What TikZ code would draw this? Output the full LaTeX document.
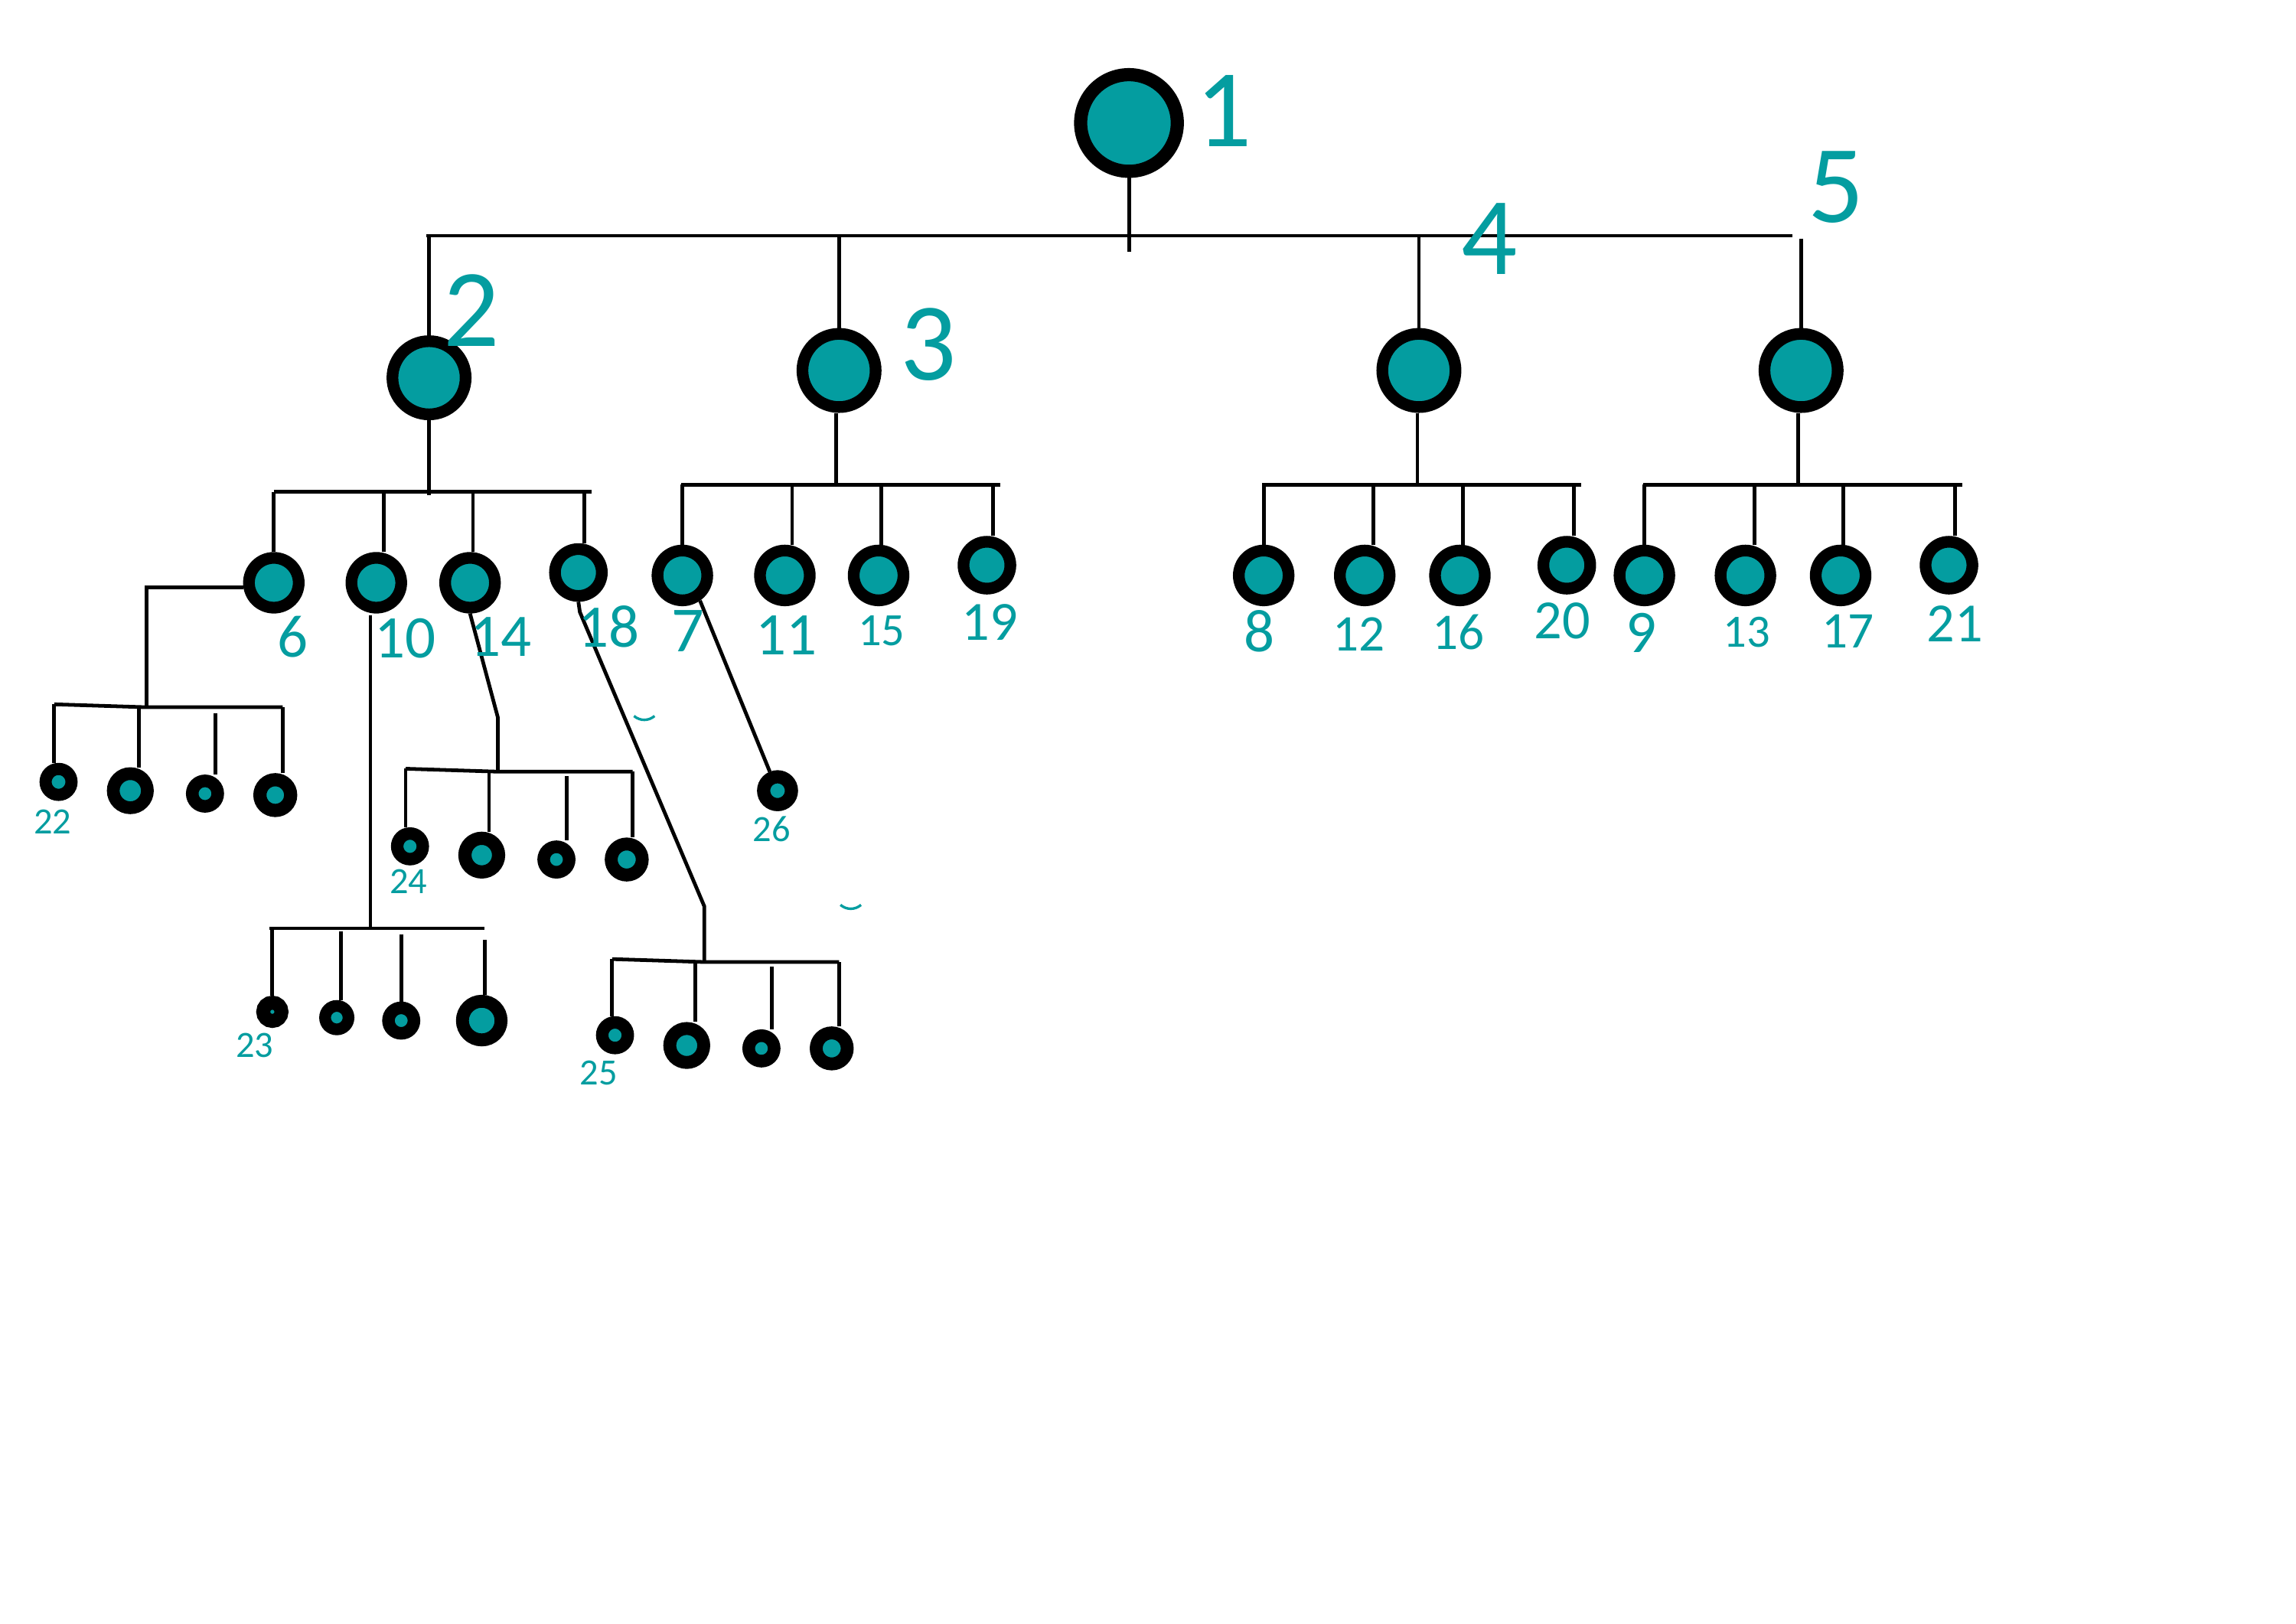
\documentclass[tikz,border=0pt]{standalone}
\usepackage{fontspec}
\setmainfont{Carlito}
\definecolor{tl}{HTML}{049DA0}
\begin{document}
\begin{tikzpicture}[x=0.2mm,y=-0.2mm,
  ring/.style 2 args={circle,draw=black,fill=tl,inner sep=0pt,line width={(#1-#2)*0.2mm},minimum size={(#1+#2)*0.2mm}},
  wire/.style={line width=0.5mm,black},
  lab/.style={text=tl,inner sep=0pt,font=\fontsize{#1}{#1}\selectfont},
]
\useasboundingbox[fill=white] (0,0) rectangle (1568,1109);

% ---------- nodes ----------
\node[ring={37.5}{28.5}] (n1) at (771,84) {};
\node[ring={29}{21}] (n2) at (293,258) {};
\node[ring={29}{21}] (n3) at (573,253) {};
\node[ring={29}{21}] (n4) at (969,253) {};
\node[ring={29}{21}] (n5) at (1230,253) {};

\node[ring={21}{13}] (n6)  at (187,398) {};
\node[ring={21}{13}] (n10) at (257,398) {};
\node[ring={21}{13}] (n14) at (321,398) {};
\node[ring={20}{12}] (n18) at (395,391) {};
\node[ring={21}{13}] (n7)  at (466,393) {};
\node[ring={21}{13}] (n11) at (536,393) {};
\node[ring={21}{13}] (n15) at (600,393) {};
\node[ring={20}{12}] (n19) at (674,386) {};
\node[ring={21}{13}] (n8)  at (863,393) {};
\node[ring={21}{13}] (n12) at (932,393) {};
\node[ring={21}{13}] (n16) at (997,393) {};
\node[ring={20}{12}] (n20) at (1070,386) {};
\node[ring={21}{13}] (n9)  at (1123,393) {};
\node[ring={21}{13}] (n13) at (1192,393) {};
\node[ring={21}{13}] (n17) at (1257,393) {};
\node[ring={20}{12}] (n21) at (1331,386) {};

\node[ring={13}{4.7}] (c22) at (40,534) {};
\node[ring={16}{7.3}] (c6b) at (89,540) {};
\node[ring={13}{4.4}] (c6c) at (140,542) {};
\node[ring={15}{6}]   (c6d) at (188,543) {};

\node[ring={11}{1.5}] (c23) at (186,691) {};
\node[ring={12}{4}]   (c10b) at (230,695) {};
\node[ring={13}{4.4}] (c10c) at (274,697) {};
\node[ring={17.6}{8.8}] (c10d) at (329,697) {};

\node[ring={13}{4.5}] (c24) at (280,578) {};
\node[ring={16}{7}]   (c14b) at (329,584) {};
\node[ring={13}{4.4}] (c14c) at (380,587) {};
\node[ring={15}{6.2}] (c14d) at (428,587) {};

\node[ring={13}{4.5}] (c25) at (420,707) {};
\node[ring={16}{7.2}] (c18b) at (469,714) {};
\node[ring={13}{4.4}] (c18c) at (520,716) {};
\node[ring={15}{6.2}] (c18d) at (568,716) {};

\node[ring={14}{5}] (c26) at (531,540) {};

% ---------- connectors ----------
% root
\coordinate (j1) at (771,172);
\draw[wire] (n1) -- (j1);
\coordinate (tbL) at (291,161);
\coordinate (tbR) at (1224,161);
\draw[wire] (tbL) -- (tbR);
\coordinate (t2) at (293,161);
\coordinate (t3) at (573,161);
\coordinate (t4) at (969,161);
\coordinate (t5) at (1230,163);
\draw[wire] (t2) -- (n2);
\draw[wire] (t3) -- (n3);
\draw[wire] (t4) -- (n4);
\draw[wire] (t5) -- (n5);

% level 2 -> 3
\coordinate (j2) at (293,338);
\coordinate (j3) at (571,332);
\coordinate (j4) at (968,332);
\coordinate (j5) at (1228,332);
\draw[wire] (n2) -- (j2);
\draw[wire] (n3.south -| j3) -- (j3);
\draw[wire] (n4.south -| j4) -- (j4);
\draw[wire] (n5.south -| j5) -- (j5);

\coordinate (b2L) at (187,336); \coordinate (b2R) at (404,336);
\coordinate (b3L) at (465,331); \coordinate (b3R) at (683,331);
\coordinate (b4L) at (862,331); \coordinate (b4R) at (1080,331);
\coordinate (b5L) at (1122,331); \coordinate (b5R) at (1340,331);
\draw[wire] (b2L) -- (b2R);
\draw[wire] (b3L) -- (b3R);
\draw[wire] (b4L) -- (b4R);
\draw[wire] (b5L) -- (b5R);

\foreach \xx/\nn/\yy in {187/n6/336,262/n10/336,323/n14/336,399/n18/336,
  466/n7/331,541/n11/331,602/n15/331,678/n19/331,
  863/n8/331,938/n12/331,999/n16/331,1075/n20/331,
  1123/n9/331,1198/n13/331,1259/n17/331,1335/n21/331}{
  \draw[wire] (\xx,\yy) -- (\xx,\yy |- \nn.north);
}

% group of 6
\coordinate (g6a) at (100,401);
\coordinate (g6j) at (100,483);
\draw[wire] (g6a -| n6.west) -- (g6a) -- (g6j);
\coordinate (g6L) at (37,481);
\coordinate (g6R) at (193,483);
\draw[wire] (g6L) -- (g6j) -- (g6R);
\draw[wire] (g6L) -- (g6L |- c22.north);
\draw[wire] (95,483) -- (95,483 |- c6b.north);
\draw[wire] (147,487) -- (147,487 |- c6c.north);
\draw[wire] (g6R) -- (g6R |- c6d.north);

% group of 10
\coordinate (g10a) at (253,420);
\coordinate (g10j) at (253,634);
\draw[wire] (g10a) -- (g10j);
\coordinate (g10L) at (184,634);
\coordinate (g10R) at (331,634);
\draw[wire] (g10L) -- (g10R);
\draw[wire] (186,634) -- (186,634 |- c23.north);
\draw[wire] (233,636) -- (233,636 |- c10b.north);
\draw[wire] (274,638) -- (274,638 |- c10c.north);
\draw[wire] (331,642) -- (331,642 |- c10d.north);

% group of 14
\coordinate (g14a) at (340,490);
\coordinate (g14j) at (340,527);
\draw[wire] (n14.south) -- (g14a) -- (g14j);
\coordinate (g14L) at (277,525);
\coordinate (g14R) at (432,527);
\draw[wire] (g14L) -- (g14j) -- (g14R);
\draw[wire] (g14L) -- (g14L |- c24.north);
\draw[wire] (334,527) -- (334,527 |- c14b.north);
\draw[wire] (387,530) -- (387,530 |- c14c.north);
\draw[wire] (g14R) -- (g14R |- c14d.north);

% group of 18
\coordinate (g18a) at (396,418);
\coordinate (g18b) at (481,619);
\coordinate (g18j) at (481,657);
\draw[wire] (n18.south) -- (g18a) -- (g18b) -- (g18j);
\coordinate (g18L) at (418,655);
\coordinate (g18R) at (573,657);
\draw[wire] (g18L) -- (g18j) -- (g18R);
\draw[wire] (g18L) -- (g18L |- c25.north);
\draw[wire] (475,657) -- (475,657 |- c18b.north);
\draw[wire] (527,660) -- (527,660 |- c18c.north);
\draw[wire] (g18R) -- (g18R |- c18d.north);

% 7 -> 26
\draw[wire] (n7.-55) -- (c26);

% small teal marks
\coordinate (m1) at (440,489);
\coordinate (m2) at (581,618);
\draw[tl,line width=0.35mm] ([xshift=-4]m1) to[bend right=40] ([xshift=4]m1);
\draw[tl,line width=0.35mm] ([xshift=-4]m2) to[bend right=40] ([xshift=4]m2);

% ---------- labels ----------
\node[lab=43] (l1) at (836,76) {1};
\node[lab=43] (l2) at (322,212) {2};
\node[lab=43] (l3) at (634,235) {3};
\node[lab=43] (l4) at (1017,163) {4};
\node[lab=43] (l5) at (1254,128) {5};

\node[lab=23.5] (l6)  at (200,435) {6};
\node[lab=23.5] (l10) at (277,436) {10};
\node[lab=23.5] (l14) at (342,435) {14};
\node[lab=23.5] (l18) at (416,428) {18};
\node[lab=25]   (l7)  at (470,431) {7};
\node[lab=23.5] (l11) at (537,434) {11};
\node[lab=18]   (l15) at (602,431) {15};
\node[lab=21.5] (l19) at (676,425) {19};
\node[lab=23.5] (l8)  at (860,431) {8};
\node[lab=20]   (l12) at (928,433) {12};
\node[lab=20]   (l16) at (996,432) {16};
\node[lab=21.5] (l20) at (1067,424) {20};
\node[lab=23.5] (l9)  at (1121,432) {9};
\node[lab=18]   (l13) at (1193,432) {13};
\node[lab=20]   (l17) at (1262,431) {17};
\node[lab=21.5] (l21) at (1335,426) {21};

\node[lab=14.4] (l22) at (36,561) {22};
\node[lab=14.4] (l23) at (174,714) {23};
\node[lab=14.4] (l24) at (279,602) {24};
\node[lab=14.4] (l25) at (409,733) {25};
\node[lab=14.4] (l26) at (527,566) {26};
\end{tikzpicture}
\end{document}
